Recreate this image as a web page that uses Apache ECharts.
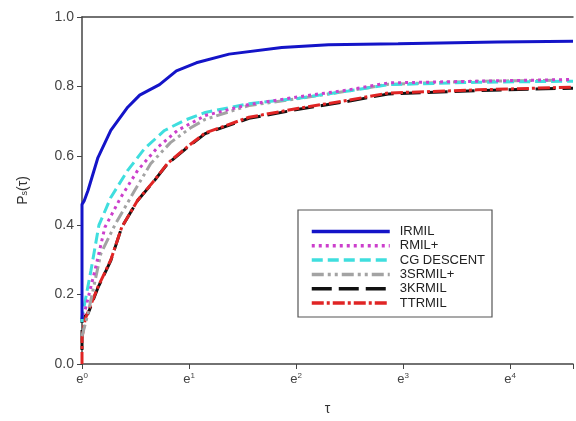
<!DOCTYPE html>
<html>
<head>
<meta charset="utf-8">
<script src="https://cdn.jsdelivr.net/npm/echarts@6/dist/echarts.min.js"></script>
<style>
html,body{margin:0;padding:0;background:#fff;}
#c{width:576px;height:421px;}
</style>
</head>
<body>
<div id="c"></div>
<script>
// x values are ln(tau); tick labels shown as e^k
var xTicks = [0, 1, 2, 3, 4];
var yTicks = [0, 0.2, 0.4, 0.6, 0.8, 1.0];
var seriesNames = ['IRMIL', 'RMIL+', 'CG DESCENT', '3SRMIL+', '3KRMIL', 'TTRMIL'];

var irmil = [[0,0.13],[0,0.46],[0.02,0.47],[0.056,0.50],[0.149,0.595],[0.269,0.673],[0.427,0.74],[0.539,0.775],[0.631,0.79],[0.724,0.805],[0.882,0.845],[1.068,0.868],[1.374,0.893],[1.866,0.912],[2.303,0.92],[2.953,0.923],[3.881,0.928],[4.587,0.93]];
var rmilPlus = [[0,0.14],[0.028,0.154],[0.121,0.27],[0.214,0.394],[0.362,0.48],[0.52,0.558],[0.706,0.624],[0.891,0.673],[1.031,0.696],[1.151,0.716],[1.56,0.748],[2.024,0.77],[2.488,0.79],[2.86,0.81],[3.695,0.815],[4.587,0.82]];
var cgDescent = [[0,0.12],[0.0,0.134],[0.084,0.27],[0.158,0.40],[0.269,0.48],[0.427,0.558],[0.585,0.621],[0.771,0.673],[0.956,0.702],[1.151,0.725],[1.56,0.75],[2.024,0.766],[2.488,0.787],[2.86,0.805],[3.695,0.812],[4.587,0.815]];
var srmil3 = [[0,0.08],[0.056,0.145],[0.176,0.318],[0.306,0.40],[0.492,0.50],[0.641,0.577],[0.826,0.638],[1.012,0.68],[1.151,0.705],[1.56,0.745],[2.024,0.765],[2.488,0.787],[2.86,0.806],[3.695,0.815],[4.587,0.818]];
var krmil3 = [[0,0.04],[0,0.13],[0.056,0.145],[0.149,0.22],[0.269,0.298],[0.371,0.394],[0.52,0.471],[0.678,0.529],[0.799,0.577],[0.984,0.624],[1.151,0.664],[1.56,0.708],[2.024,0.734],[2.488,0.757],[2.86,0.778],[3.695,0.788],[4.587,0.795]];
var ttrmil = [[0,0],[0,0.075],[0.03,0.13],[0.056,0.15],[0.149,0.222],[0.269,0.30],[0.371,0.394],[0.52,0.472],[0.678,0.53],[0.799,0.578],[0.984,0.626],[1.151,0.666],[1.56,0.711],[2.024,0.737],[2.488,0.76],[2.86,0.781],[3.695,0.79],[4.587,0.798]];

var seriesData = [irmil, rmilPlus, cgDescent, srmil3, krmil3, ttrmil];
var colors = ['#1414c8', '#cc3fcc', '#3fdede', '#a3a3a3', '#111111', '#e02424'];
var dashes = ['solid', [3,4], [11,5], [12,4,3,4,3,4], [20,7], [12,3,3,3]];

var chart = echarts.init(document.getElementById('c'));
var series = seriesNames.map(function(n, i){
  return {
    name: n, type: 'line', data: seriesData[i], symbol: 'none', showSymbol: false,
    z: 10 - i,
    lineStyle: {color: colors[i], width: 3, type: dashes[i], cap: 'butt'},
    itemStyle: {color: colors[i]}
  };
});
series[5].z = 5; series[4].z = 4;

chart.setOption({
  animation: false,
  backgroundColor: '#fff',
  grid: {left: 82, right: 0, top: 17, bottom: 57},
  xAxis: [{
    type: 'value', min: 0, max: 4.587, interval: 1,
    name: 'τ', nameLocation: 'middle', nameGap: 38,
    nameTextStyle: {fontFamily: 'Liberation Sans', fontSize: 14, color: '#333'},
    axisLine: {lineStyle: {color: '#444', width: 1.5}},
    axisTick: {show: true, length: 5, lineStyle: {color: '#444'}},
    splitLine: {show: false},
    axisLabel: {
      margin: 8, fontFamily: 'Liberation Sans',
      formatter: function(v){ return (xTicks.indexOf(v) >= 0) ? '{b|e}{s|' + v + '}' : ''; },
      rich: {b: {fontSize: 13, color: '#444', fontFamily: 'Liberation Sans'},
             s: {fontSize: 8, color: '#444', fontFamily: 'Liberation Sans', padding: [0,0,6,0]}}
    }
  }, {
    type: 'value', position: 'top', min: 0, max: 4.587,
    axisLine: {show: true, onZero: false, lineStyle: {color: '#444', width: 1.5}},
    axisTick: {show: false}, axisLabel: {show: false}, splitLine: {show: false}
  }],
  yAxis: {
    type: 'value', min: 0, max: 1, interval: 0.2,
    name: '{p|P}{sub|s}{p|(τ)}', nameLocation: 'middle', nameGap: 52, nameRotate: 90,
    nameTextStyle: {rich: {p: {fontSize: 14, color: '#333', fontFamily: 'Liberation Sans'},
                           sub: {fontSize: 9, color: '#333', fontFamily: 'Liberation Sans', padding: [0,0,-4,0]}}},
    axisLine: {show: true, lineStyle: {color: '#444', width: 1.5}},
    axisTick: {show: true, length: 5, lineStyle: {color: '#444'}},
    splitLine: {show: false},
    axisLabel: {margin: 8, fontFamily: 'Liberation Sans', fontSize: 14, color: '#444',
      formatter: function(v){ return v.toFixed(1); }}
  },
  legend: {
    orient: 'vertical', left: 305, top: 220,
    itemWidth: 78, itemHeight: 14, itemGap: 1.3,
    data: seriesNames,
    itemStyle: {opacity: 0},
    lineStyle: {width: 3.5},
    textStyle: {fontFamily: 'Liberation Sans', fontSize: 13, color: '#222', padding: [0,0,0,5]}
  },
  graphic: [{
    type: 'rect', shape: {x: 298, y: 210, width: 194, height: 107},
    style: {fill: 'none', stroke: '#555', lineWidth: 1.2}, z: 100, silent: true
  }],
  series: series
});
</script>
</body>
</html>
